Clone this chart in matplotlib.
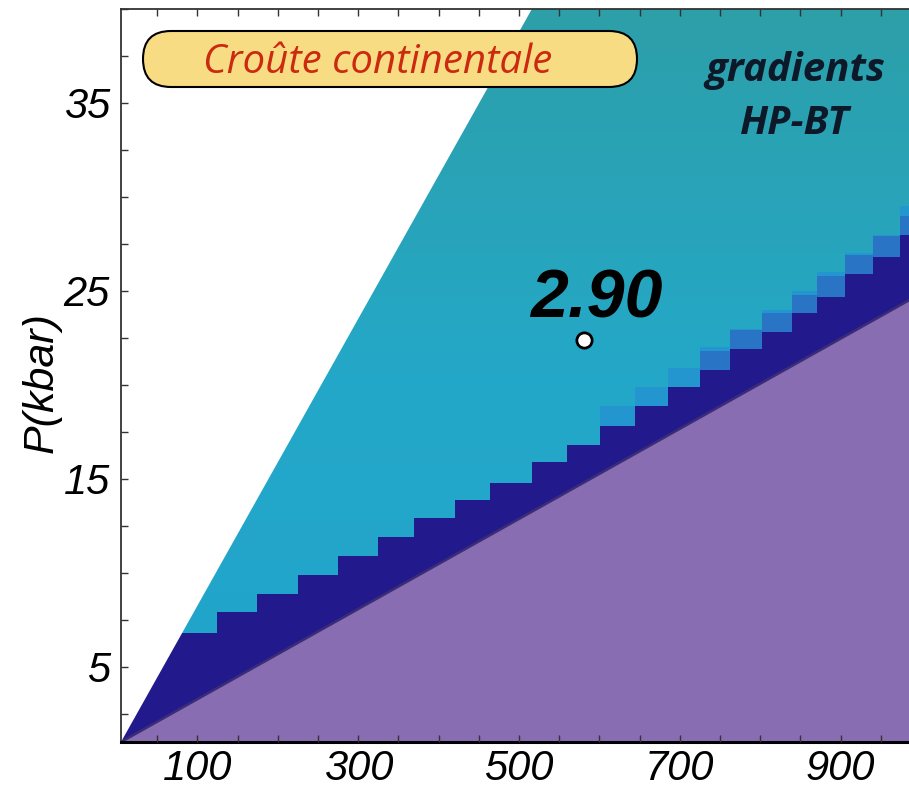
import numpy as np
import matplotlib.pyplot as plt
from matplotlib.colors import LinearSegmentedColormap
from matplotlib.patches import FancyBboxPatch, Polygon
from matplotlib.ticker import MultipleLocator

# limits of the P-T field (T in degC, P in kbar)
upper_T = [5, 516]
upper_P = [1, 40]
lower_T = [5, 985]
lower_P = [1, 24.5]

# top of the dark (navy) staircase band
navy_T = [5, 125, 174, 225, 275, 325, 370, 420, 464, 516, 560, 601, 644,
          685, 725, 762, 802, 840, 871, 905, 940, 974, 985]
navy_P = [6.8, 7.9, 8.9, 9.9, 10.9, 11.9, 12.9, 13.9, 14.8, 15.9, 16.8,
          17.8, 18.9, 19.9, 20.8, 21.9, 22.8, 23.8, 24.7, 25.9, 26.8, 28.0, 28.0]

# transition cells above the staircase (right part)
mid1_T = [725, 762, 802, 840, 871, 905, 940, 974, 985]
mid1_P = [21.8, 22.9, 23.8, 24.8, 25.8, 26.9, 27.9, 29.0, 29.0]
mid2_T = [601, 644, 685, 725, 762, 802, 840, 871, 905, 940, 974, 985]
mid2_P = [18.9, 19.9, 20.9, 22.0, 23.0, 24.0, 25.0, 26.0, 27.0, 28.0, 29.5, 29.5]

point_T = [581]
point_P = [22.4]
point_label = ["2.90"]

W, H = 909, 791
fig = plt.figure(figsize=(W / 100, H / 100), dpi=100)
ax = fig.add_axes([121 / W, 49 / H, 788 / W, 733 / H])
ax.set_xlim(5, 985)
ax.set_ylim(1, 40)

# teal background with a soft vertical shade
cmap = LinearSegmentedColormap.from_list("teal", ["#20a3cc", "#24a8c8", "#2d9fa9"])
grad = np.linspace(0, 1, 200).reshape(-1, 1)
ax.imshow(grad, extent=(5, 985, 1, 40), origin="lower", aspect="auto",
          cmap=cmap, zorder=0, interpolation="bilinear")

ax.fill_between(mid2_T, 0, mid2_P, step="post", color="#2396cf", lw=0, zorder=1)
ax.fill_between(mid1_T, 0, mid1_P, step="post", color="#2a74c6", lw=0, zorder=1.2)
ax.fill_between(navy_T, 0, navy_P, step="post", color="#221a8c", lw=0, zorder=1.4)

# purple field below the lower gradient
purple = Polygon([(lower_T[0], lower_P[0]), (lower_T[1], lower_P[1]), (lower_T[1], 0), (lower_T[0], 0)],
                 closed=True, facecolor="#896db3", edgecolor="none", zorder=1.6)
ax.add_patch(purple)
ax.plot(lower_T, lower_P, color="#3b2c78", lw=1.8, zorder=1.8)

# white area above the upper gradient
white = Polygon([(upper_T[0], upper_P[0]), (upper_T[1], upper_P[1]), (upper_T[0], upper_P[1])],
                closed=True, facecolor="white", edgecolor="none", zorder=2)
ax.add_patch(white)

# sample point
ax.plot(point_T, point_P, "o", ms=11, mfc="white", mec="black", mew=2, zorder=6)
for t, p, lab in zip(point_T, point_P, point_label):
    ax.text(t + 15, p + 1.2, lab, ha="center", va="baseline", fontsize=49,
            fontweight="bold", style="italic", family="Liberation Sans", zorder=6)

# titles inside the plot
box = FancyBboxPatch((143 / W, 1 - 87 / H), 494 / W, 56 / H, boxstyle="round,pad=0,rounding_size=%f" % (28 / W),
                     mutation_aspect=W / H, transform=fig.transFigure,
                     facecolor="#f8dc84", edgecolor="black", lw=1.5, zorder=7)
fig.patches.append(box)
fig.text(378 / W, 1 - 73 / H, "Croûte continentale", ha="center", va="baseline",
         fontsize=29, style="italic", color="#cc2a10", family="Open Sans", zorder=8)
fig.text(795 / W, 1 - 81 / H, "gradients", ha="center", va="baseline", fontsize=29,
         fontweight="bold", style="italic", color="#0d1828", family="Open Sans")
fig.text(795 / W, 1 - 134 / H, "HP-BT", ha="center", va="baseline", fontsize=29,
         fontweight="bold", style="italic", color="#0d1828", family="Open Sans")

# axes styling
ax.set_xticks([100, 300, 500, 700, 900])
ax.set_yticks([5, 15, 25, 35])
ax.xaxis.set_minor_locator(MultipleLocator(50))
ax.yaxis.set_minor_locator(MultipleLocator(2.5))
ax.tick_params(which="both", direction="in", length=5, width=1, color="#333333",
               top=True, right=False, labelsize=30)
ax.tick_params(axis="x", pad=5)
ax.tick_params(axis="y", pad=8)
for lab in ax.get_xticklabels() + ax.get_yticklabels():
    lab.set_fontstyle("italic")
    lab.set_family("Liberation Sans")
ax.xaxis.set_zorder(5)
ax.yaxis.set_zorder(5)
for s in ax.spines.values():
    s.set_zorder(5)
ax.spines["right"].set_visible(False)
ax.spines["bottom"].set_linewidth(2.2)
ax.spines["left"].set_linewidth(1.3)
ax.spines["top"].set_linewidth(1.3)
ax.spines["left"].set_color("#333333")
ax.spines["top"].set_color("#333333")

ax.set_ylabel("P(kbar)", fontsize=31, style="italic", family="Liberation Sans")
ax.yaxis.set_label_coords(-0.075, 0.491)

fig.savefig("out.png", dpi=100)
